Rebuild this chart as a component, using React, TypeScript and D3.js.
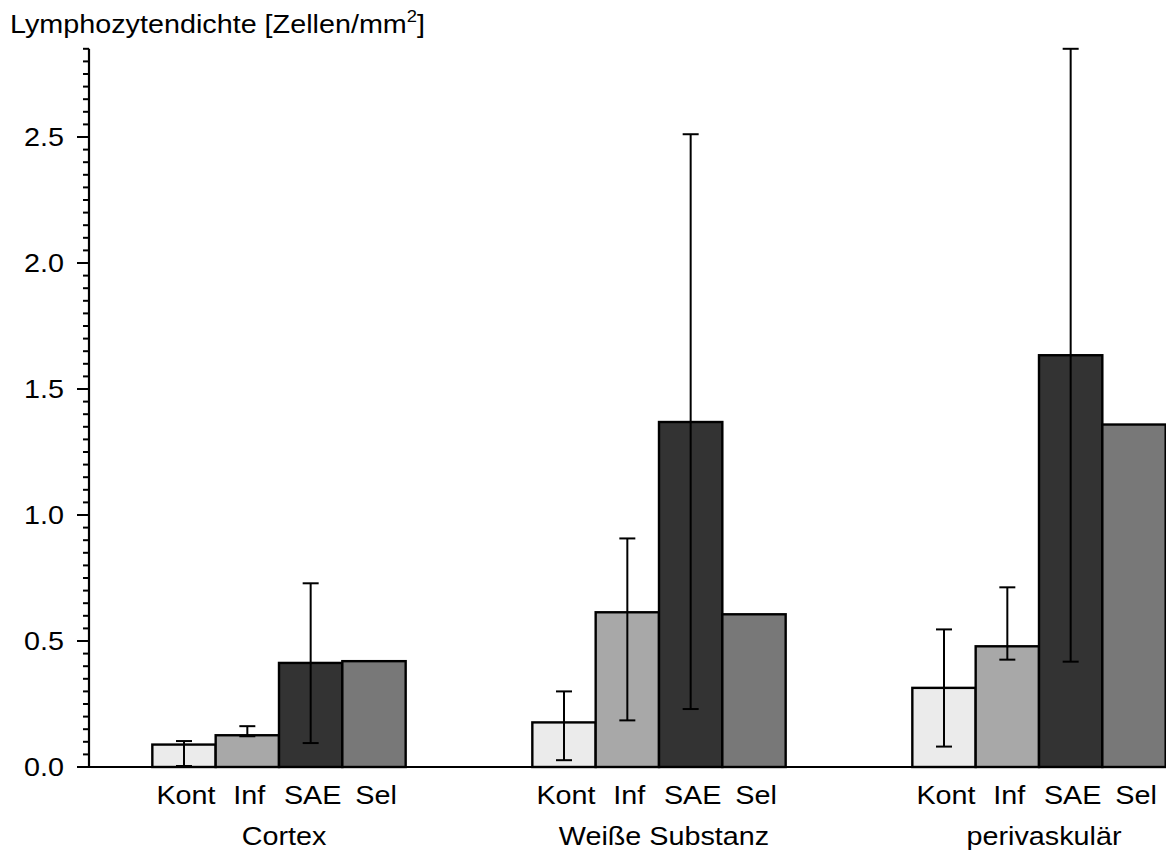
import * as d3 from "d3";

// groups on the x axis, bars inside each group
const groups = ["Cortex", "Weiße Substanz", "perivaskulär"];
const items = ["Kont", "Inf", "SAE", "Sel"];

// bar heights per item, one value per group
const kont = [0.089, 0.177, 0.314];
const inf = [0.126, 0.614, 0.479];
const sae = [0.413, 1.369, 1.634];
const sel = [0.42, 0.606, 1.359];

// error bar ends (null = no error bar)
const kontUpper = [0.103, 0.3, 0.546];
const kontLower = [0.004, 0.027, 0.081];
const infUpper = [0.162, 0.907, 0.713];
const infLower = [0.122, 0.185, 0.426];
const saeUpper = [0.729, 2.511, 2.85];
const saeLower = [0.095, 0.23, 0.418];

const yMax = 2.85;
const yTitle = "Lymphozytendichte [Zellen/mm";

const W = 1166;
const H = 852;
const SX = 1.15; // glyphs in the reference are a bit wider than tall
const FONT = "'Liberation Sans', Arial, Helvetica, sans-serif";

const fills = ["#ebebeb", "#a8a8a8", "#333333", "#787878"];

function Label({x, y, anchor = "middle", size = 25, children}) {
    return (
        <g transform={`translate(${x},${y}) scale(${SX},1)`}>
            <text textAnchor={anchor} fontSize={size} fontFamily={FONT} fill="#000">
                {children}
            </text>
        </g>
    );
}

export default function App() {
    const series = [kont, inf, sae, sel];
    const uppers = [kontUpper, infUpper, saeUpper, null];
    const lowers = [kontLower, infLower, saeLower, null];

    const x0 = d3
        .scaleBand()
        .domain(groups)
        .range([89, 1229])
        .paddingInner(1 / 3)
        .paddingOuter(1 / 6);
    const x1 = d3.scaleBand().domain(items).range([0, x0.bandwidth()]);
    const y = d3.scaleLinear().domain([0, yMax]).range([767, 767 - yMax * 252]);

    const tickVals = d3.range(0, Math.round(yMax * 20) + 1).map((i) => i / 20);
    const fmt = d3.format(".1f");
    const axisX = x0.range()[0];

    return (
        <svg
            width={W}
            height={H}
            style={{position: "absolute", left: 0, top: 0, background: "#fff"}}
        >
            {/* bars */}
            {groups.map((g, gi) =>
                items.map((it, ii) => (
                    <rect
                        key={`${g}-${it}`}
                        x={x0(g) + x1(it)}
                        y={y(series[ii][gi])}
                        width={x1.bandwidth()}
                        height={y(0) - y(series[ii][gi])}
                        fill={fills[ii]}
                        stroke="#000"
                        strokeWidth={2.4}
                    />
                ))
            )}

            {/* error bars */}
            {groups.map((g, gi) =>
                items.map((it, ii) => {
                    if(!uppers[ii]) return null;
                    const cx = x0(g) + x1(it) + x1.bandwidth() / 2;
                    const yt = y(uppers[ii][gi]);
                    const yb = y(lowers[ii][gi]);
                    return (
                        <g key={`e-${g}-${it}`} stroke="#000" strokeWidth={2}>
                            <line x1={cx} x2={cx} y1={yt} y2={yb} />
                            <line x1={cx - 8} x2={cx + 8} y1={yt} y2={yt} />
                            <line x1={cx - 8} x2={cx + 8} y1={yb} y2={yb} />
                        </g>
                    );
                })
            )}

            {/* y axis */}
            <line x1={axisX} x2={axisX} y1={y(yMax)} y2={y(0)} stroke="#000" strokeWidth={2.2} />
            {tickVals.map((v, i) => {
                const major = i % 10 === 0;
                return (
                    <g key={`t${i}`}>
                        <line
                            x1={axisX - (major ? 12 : 6)}
                            x2={axisX}
                            y1={y(v)}
                            y2={y(v)}
                            stroke="#000"
                            strokeWidth={2}
                        />
                        {major && (
                            <Label x={64} y={y(v) + 9} anchor="end">
                                {fmt(v)}
                            </Label>
                        )}
                    </g>
                );
            })}

            {/* x axis baseline */}
            <line x1={axisX - 12} x2={W} y1={y(0)} y2={y(0)} stroke="#000" strokeWidth={2.2} />

            {/* x labels */}
            {groups.map((g) => (
                <g key={`l-${g}`}>
                    {items.map((it) => (
                        <Label key={it} x={x0(g) + x1(it) + x1.bandwidth() / 2 + 2} y={804}>
                            {it}
                        </Label>
                    ))}
                    <Label x={x0(g) + x0.bandwidth() / 2 + 5} y={845}>
                        {g}
                    </Label>
                </g>
            ))}

            {/* axis title */}
            <Label x={10} y={33} anchor="start">
                {yTitle}
                <tspan fontSize={16} dy={-11}>2</tspan>
                <tspan dy={11}>]</tspan>
            </Label>
        </svg>
    );
}
